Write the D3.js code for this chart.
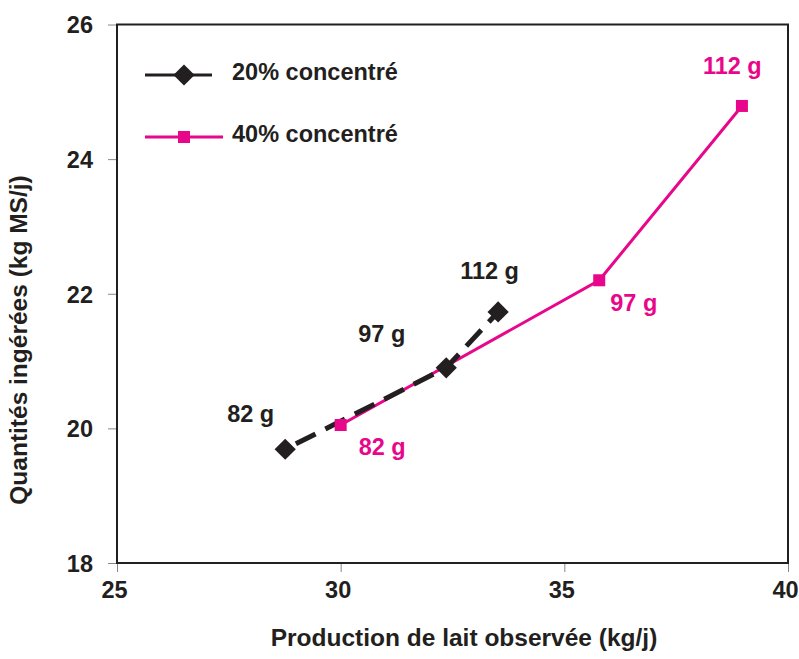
<!DOCTYPE html>
<html>
<head>
<meta charset="utf-8">
<script src="https://cdn.jsdelivr.net/npm/d3@7"></script>
<style>
  html, body { margin: 0; padding: 0; background: #fff; }
  svg { display: block; }
  text { font-family: "Liberation Sans", Arial, Helvetica, sans-serif; font-weight: bold; }
</style>
</head>
<body>
<svg id="chart" width="799" height="659"></svg>
<script>
// ---- data ----
const seriesNames = ["20% concentré", "40% concentré"];
const series20x = [28.76, 32.36, 33.52];
const series20y = [19.69, 20.90, 21.73];
const series20labels = ["82 g", "97 g", "112 g"];
const series40x = [30.0, 35.78, 38.97];
const series40y = [20.05, 22.20, 24.79];
const series40labels = ["82 g", "97 g", "112 g"];
const xTicks = [25, 30, 35, 40];
const yTicks = [18, 20, 22, 24, 26];
const xTitle = "Production de lait observée (kg/j)";
const yTitle = "Quantités ingérées (kg MS/j)";

// ---- layout ----
const dark = "#231f20";
const pink = "#e8078a";
const svg = d3.select("#chart");
const x = d3.scaleLinear().domain([25, 40]).range([117, 788]);
const y = d3.scaleLinear().domain([18, 26]).range([563, 24.5]);

// axes
const xAxis = svg.append("g").attr("transform", `translate(0,${y(18)})`)
  .call(d3.axisBottom(x).tickValues(xTicks).tickSize(9).tickPadding(9).tickFormat(d3.format("d")));
const yAxis = svg.append("g").attr("transform", `translate(${x(25)},0)`)
  .call(d3.axisLeft(y).tickValues(yTicks).tickSize(9).tickPadding(15).tickFormat(d3.format("d")));
[xAxis, yAxis].forEach(g => {
  g.select(".domain").remove();
  g.selectAll(".tick line").attr("stroke", "#888").attr("stroke-width", 1);
  g.selectAll(".tick text").attr("fill", dark).style("font-size", "23.5px")
    .style("font-family", '"Liberation Sans", Arial, sans-serif').style("font-weight", "bold");
});
xAxis.selectAll(".tick text").attr("dx", -3);
yAxis.selectAll(".tick text").attr("dy", "0.36em");

// frame
svg.append("rect")
  .attr("x", x(25)).attr("y", y(26))
  .attr("width", x(40) - x(25)).attr("height", y(18) - y(26))
  .attr("fill", "none").attr("stroke", dark).attr("stroke-width", 2);

// titles
svg.append("text").attr("x", 464).attr("y", 646).attr("text-anchor", "middle")
  .attr("fill", dark).style("font-size", "24.5px").text(xTitle);
svg.append("text").attr("transform", "translate(27,340) rotate(-90)").attr("text-anchor", "middle")
  .attr("fill", dark).style("font-size", "24.5px").text(yTitle);

// series data
const d20 = series20x.map((v, i) => ({x: v, y: series20y[i], label: series20labels[i]}));
const d40 = series40x.map((v, i) => ({x: v, y: series40y[i], label: series40labels[i]}));
const line = d3.line().x(d => x(d.x)).y(d => y(d.y));

// 40% line (pink, solid)
svg.append("path").datum(d40).attr("d", line)
  .attr("fill", "none").attr("stroke", pink).attr("stroke-width", 3);
// 20% line (black, dashed)
svg.append("path").datum(d20).attr("d", line)
  .attr("fill", "none").attr("stroke", dark).attr("stroke-width", 5)
  .attr("stroke-dasharray", "22,11").attr("stroke-dashoffset", -12);

// markers
const diamond = d3.symbol().type(d3.symbolSquare).size(225);
svg.append("g").selectAll("path").data(d20).join("path")
  .attr("d", diamond)
  .attr("transform", d => `translate(${x(d.x)},${y(d.y)}) rotate(45)`)
  .attr("fill", dark);
svg.append("g").selectAll("rect").data(d40).join("rect")
  .attr("x", d => x(d.x) - 6).attr("y", d => y(d.y) - 6)
  .attr("width", 12).attr("height", 12).attr("fill", pink);

// data labels
const off20 = [[-58, -27], [-88, -26], [-38, -33]];
const off40 = [[18, 30], [11, 31], [-39, -32]];
svg.append("g").selectAll("text").data(d20).join("text")
  .attr("x", (d, i) => x(d.x) + off20[i][0]).attr("y", (d, i) => y(d.y) + off20[i][1])
  .attr("fill", dark).style("font-size", "23.5px").text(d => d.label);
svg.append("g").selectAll("text").data(d40).join("text")
  .attr("x", (d, i) => x(d.x) + off40[i][0]).attr("y", (d, i) => y(d.y) + off40[i][1])
  .attr("fill", pink).style("font-size", "23.5px").text(d => d.label);

// legend
const leg = svg.append("g");
leg.append("line").attr("x1", 145).attr("x2", 212).attr("y1", 75).attr("y2", 75)
  .attr("stroke", dark).attr("stroke-width", 3);
leg.append("path").attr("d", diamond).attr("transform", "translate(184,75) rotate(45)").attr("fill", dark);
leg.append("text").attr("x", 232).attr("y", 80).attr("fill", dark).style("font-size", "23.5px").text(seriesNames[0]);
leg.append("line").attr("x1", 145).attr("x2", 223).attr("y1", 137).attr("y2", 137)
  .attr("stroke", pink).attr("stroke-width", 3);
leg.append("rect").attr("x", 178).attr("y", 131).attr("width", 12).attr("height", 12).attr("fill", pink);
leg.append("text").attr("x", 232).attr("y", 142).attr("fill", dark).style("font-size", "23.5px").text(seriesNames[1]);
</script>
</body>
</html>
